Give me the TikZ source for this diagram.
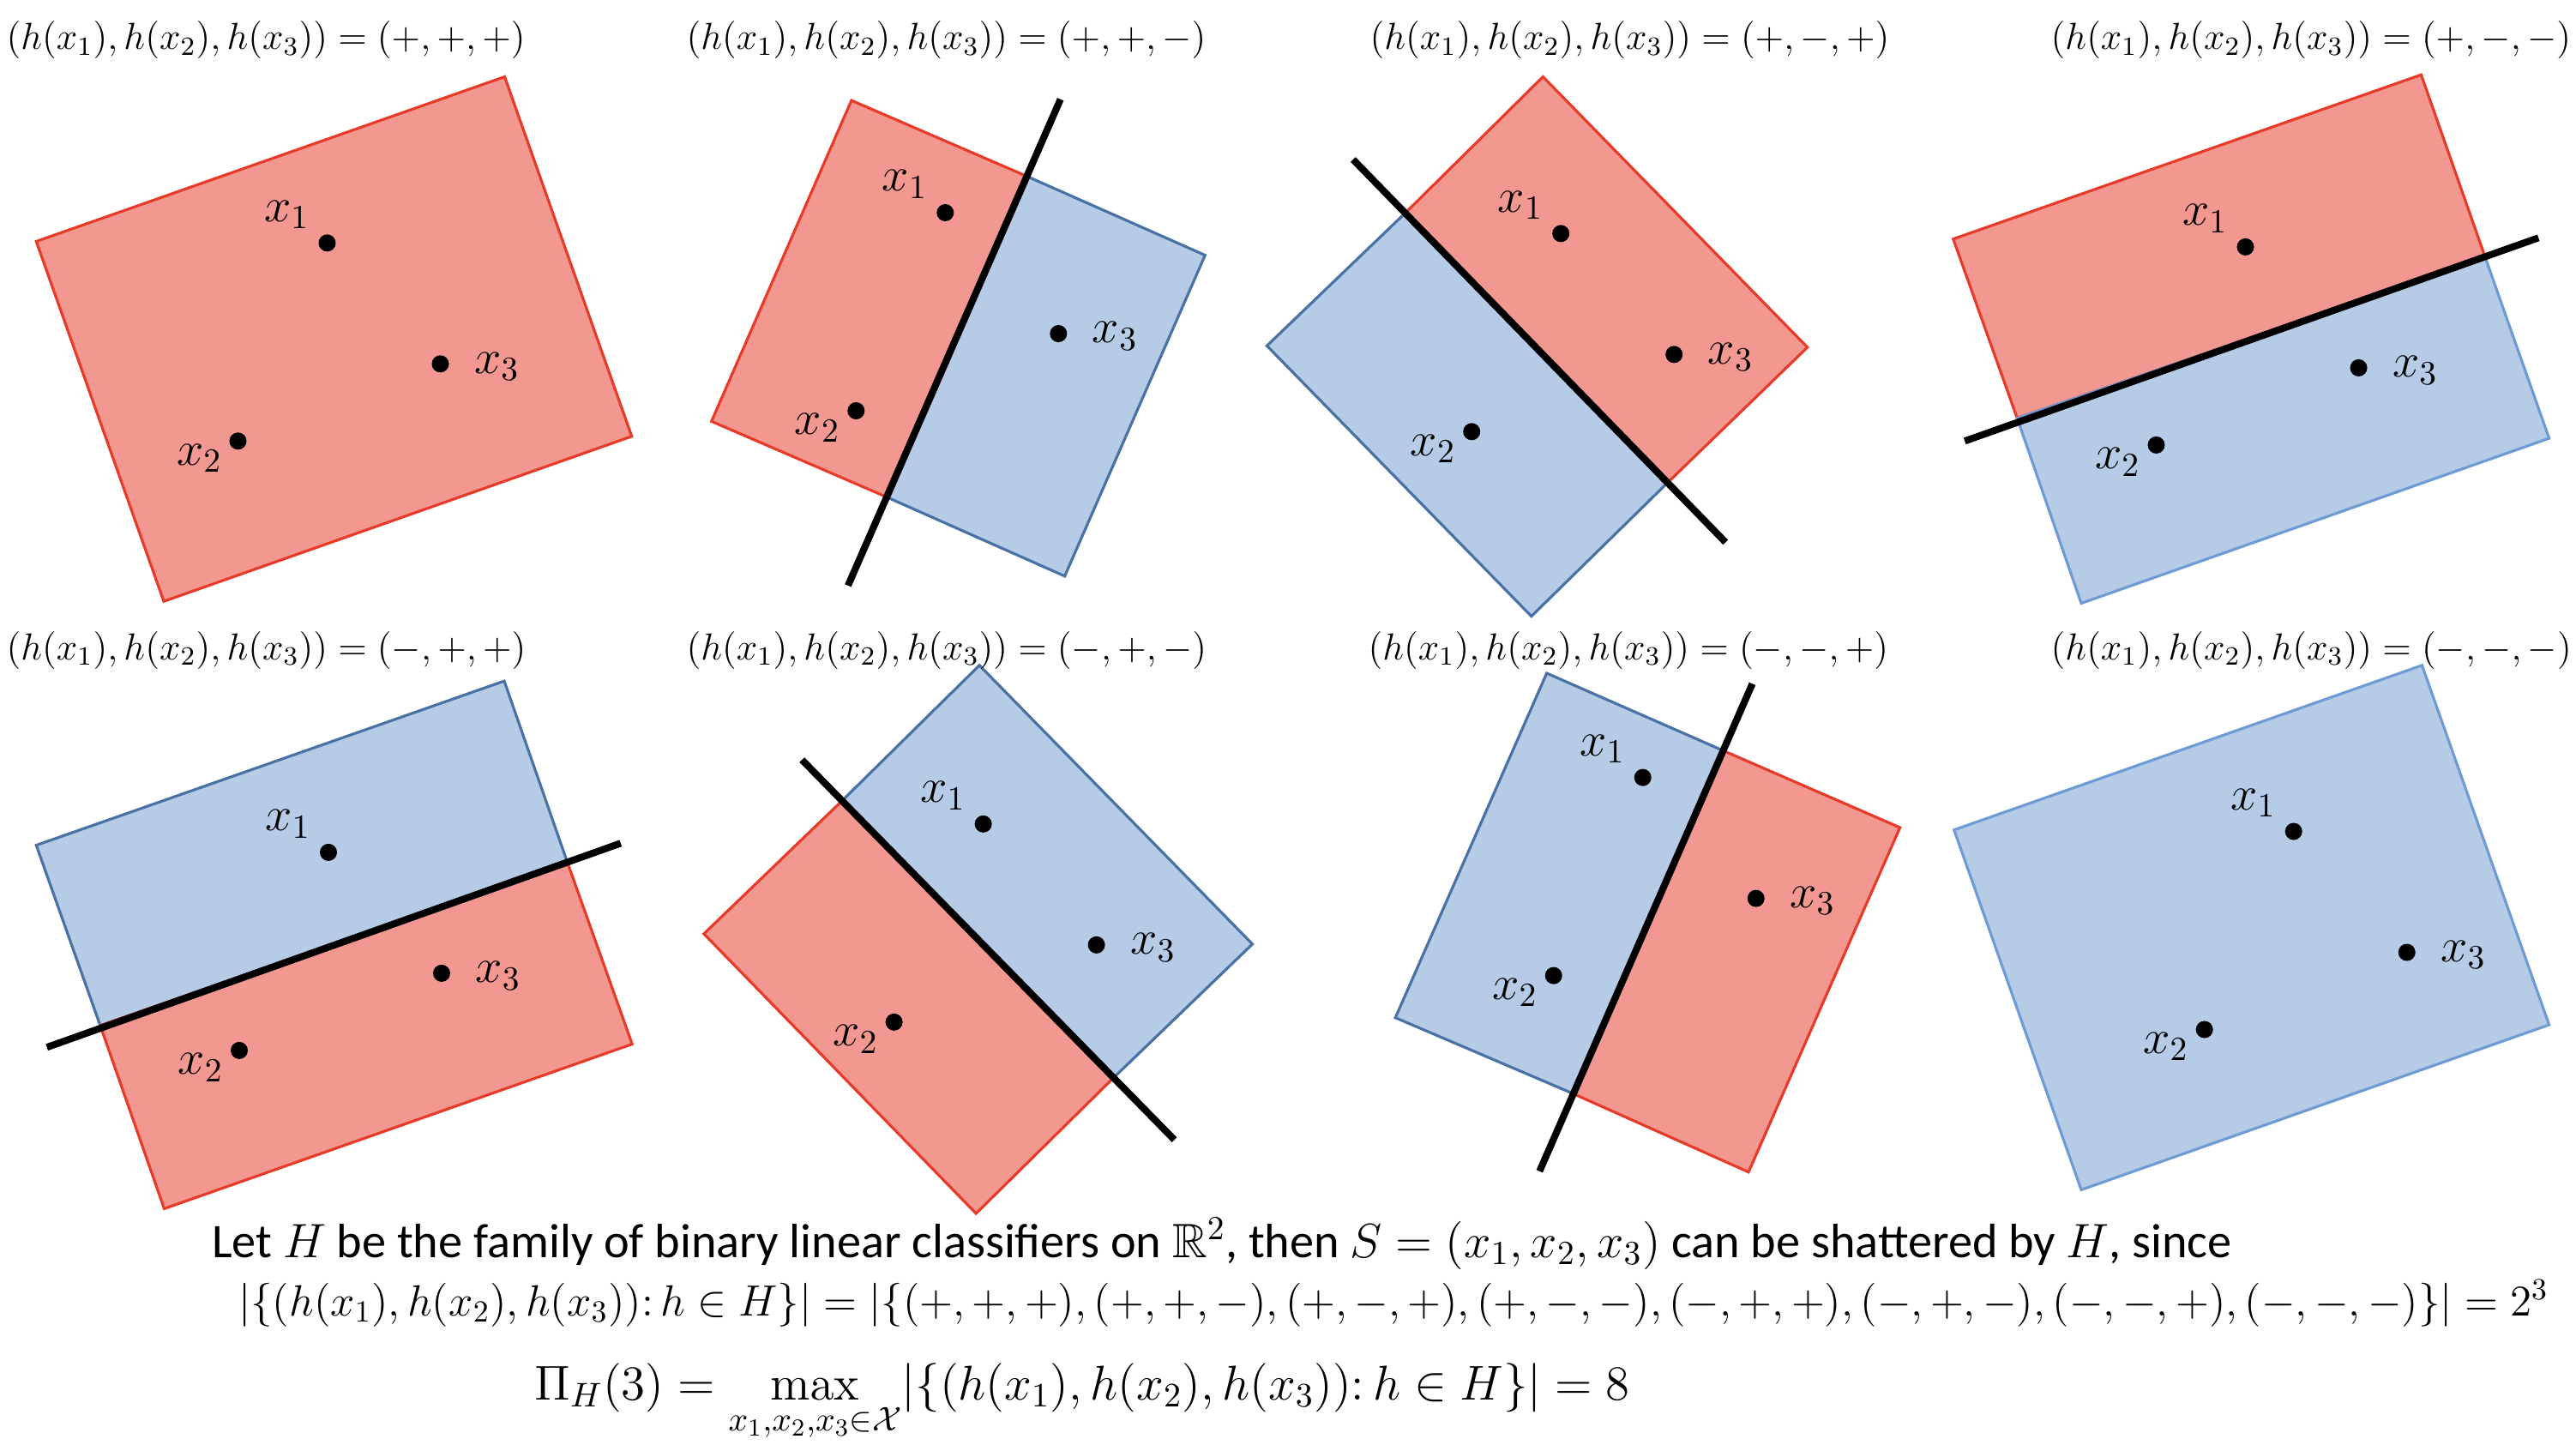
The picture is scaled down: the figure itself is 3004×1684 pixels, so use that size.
\RequirePackage{fix-cm}
\documentclass[tikz,border=0pt]{standalone}
\usepackage{amssymb}
\usepackage[no-math]{fontspec}
\setmainfont{Carlito}
\definecolor{redfill}{RGB}{243,152,145}
\definecolor{rededge}{RGB}{232,58,40}
\definecolor{bluefill}{RGB}{181,203,230}
\definecolor{blueedge}{RGB}{74,113,163}
\definecolor{blueedgeb}{RGB}{110,155,212}
\begin{document}
\begin{tikzpicture}[x=0.01cm,y=-0.01cm,
  posreg/.style={fill=redfill,draw=rededge,line width=0.9pt},
  negreg/.style={fill=bluefill,draw=blueedge,line width=0.9pt},
  sep/.style={line width=2.3pt},
  dot/.style={circle,fill=black,inner sep=0pt,minimum size=0.2cm},
  lbl/.style={font=\fontsize{16}{18}\selectfont},
  head/.style={anchor=west,inner sep=0pt,font=\fontsize{12.5}{15}\selectfont}]
  \useasboundingbox (0,0) rectangle (3004,1684);

  \draw[posreg] (42.3,281.5) -- (588.5,89.5) -- (736.7,508.8) -- (191,701.2) -- cycle;
  \node[head] (t1) at (7,47) {$\bigl(h(x_1),h(x_2),h(x_3)\bigr)=(+,+,+)$};
  \node[dot] (p1a) at (381.5,283.3) {};
  \node[dot] (p1b) at ([shift={(-104,231)}]p1a) {};
  \node[dot] (p1c) at ([shift={(132,141)}]p1a) {};
  \node[lbl] (p1la) at ([shift={(-47,-33)}]p1a) {$x_1$};
  \node[lbl] (p1lb) at ([shift={(-45,20)}]p1b) {$x_2$};
  \node[lbl] (p1lc) at ([shift={(66,3)}]p1c) {$x_3$};

  \draw[posreg] (992.9,117.1) -- (1196.9,205.3) -- (1033.7,579.5) -- (829.7,491.3) -- cycle;
  \draw[negreg] (1196.9,205.3) -- (1405.3,297.6) -- (1241.6,671.8) -- (1033.7,579.5) -- cycle;
  \coordinate (s2a) at (1236.7,115.7);
  \coordinate (s2b) at (988.9,682.8);
  \draw[sep] (s2a) -- (s2b);
  \node[head] (t2) at (800,47) {$\bigl(h(x_1),h(x_2),h(x_3)\bigr)=(+,+,-)$};
  \node[dot] (p2a) at (1102.3,248) {};
  \node[dot] (p2b) at ([shift={(-104,231)}]p2a) {};
  \node[dot] (p2c) at ([shift={(132,141)}]p2a) {};
  \node[lbl] (p2la) at ([shift={(-47,-33)}]p2a) {$x_1$};
  \node[lbl] (p2lb) at ([shift={(-45,20)}]p2b) {$x_2$};
  \node[lbl] (p2lc) at ([shift={(66,3)}]p2c) {$x_3$};

  \draw[posreg] (1639.1,248) -- (1799.3,89.5) -- (2107.7,405) -- (1945,562.5) -- cycle;
  \draw[negreg] (1477.4,403.2) -- (1639.1,248) -- (1945,562.5) -- (1785.8,718.6) -- cycle;
  \coordinate (s3a) at (1577.9,186);
  \coordinate (s3b) at (2012.2,632.3);
  \draw[sep] (s3a) -- (s3b);
  \node[head] (t3) at (1597,47) {$\bigl(h(x_1),h(x_2),h(x_3)\bigr)=(+,-,+)$};
  \node[dot] (p3a) at (1820.2,272.3) {};
  \node[dot] (p3b) at ([shift={(-104,231)}]p3a) {};
  \node[dot] (p3c) at ([shift={(132,141)}]p3a) {};
  \node[lbl] (p3la) at ([shift={(-47,-33)}]p3a) {$x_1$};
  \node[lbl] (p3lb) at ([shift={(-45,20)}]p3b) {$x_2$};
  \node[lbl] (p3lc) at ([shift={(66,3)}]p3c) {$x_3$};

  \draw[posreg] (2277.7,278.7) -- (2823.4,87.2) -- (2898,299.8) -- (2352.3,487.6) -- cycle;
  \draw[negreg,draw=blueedgeb] (2352.3,487.6) -- (2898,299.8) -- (2972.6,511.1) -- (2427,703.5) -- cycle;
  \coordinate (s4a) at (2960.2,277.3);
  \coordinate (s4b) at (2291.2,514.3);
  \draw[sep] (s4a) -- (s4b);
  \node[head] (t4) at (2391,47) {$\bigl(h(x_1),h(x_2),h(x_3)\bigr)=(+,-,-)$};
  \node[dot] (p4a) at (2618.5,287.9) {};
  \node[dot] (p4b) at ([shift={(-104,231)}]p4a) {};
  \node[dot] (p4c) at ([shift={(132,141)}]p4a) {};
  \node[lbl] (p4la) at ([shift={(-47,-33)}]p4a) {$x_1$};
  \node[lbl] (p4lb) at ([shift={(-45,20)}]p4b) {$x_2$};
  \node[lbl] (p4lc) at ([shift={(66,3)}]p4c) {$x_3$};

  \draw[negreg] (42.3,985.6) -- (588,794.1) -- (661.6,1005.4) -- (116.9,1195.9) -- cycle;
  \draw[posreg] (116.9,1195.9) -- (661.6,1005.4) -- (737.2,1217.5) -- (191.5,1409.4) -- cycle;
  \coordinate (s5a) at (723.8,983.3);
  \coordinate (s5b) at (54.7,1221.2);
  \draw[sep] (s5a) -- (s5b);
  \node[head] (t5) at (7,758) {$\bigl(h(x_1),h(x_2),h(x_3)\bigr)=(-,+,+)$};
  \node[dot] (p5a) at (383,993.9) {};
  \node[dot] (p5b) at ([shift={(-104,231)}]p5a) {};
  \node[dot] (p5c) at ([shift={(132,141)}]p5a) {};
  \node[lbl] (p5la) at ([shift={(-47,-33)}]p5a) {$x_1$};
  \node[lbl] (p5lb) at ([shift={(-45,20)}]p5b) {$x_2$};
  \node[lbl] (p5lc) at ([shift={(66,3)}]p5c) {$x_3$};

  \draw[negreg] (981.5,934.2) -- (1142.1,775.8) -- (1460.5,1100.9) -- (1298.8,1256.5) -- cycle;
  \draw[posreg] (820.8,1088.9) -- (981.5,934.2) -- (1298.8,1256.5) -- (1138.2,1415) -- cycle;
  \coordinate (s6a) at (935.2,886);
  \coordinate (s6b) at (1369.5,1329.1);
  \draw[sep] (s6a) -- (s6b);
  \node[head] (t6) at (800,758) {$\bigl(h(x_1),h(x_2),h(x_3)\bigr)=(-,+,-)$};
  \node[dot] (p6a) at (1146.6,960.8) {};
  \node[dot] (p6b) at ([shift={(-104,231)}]p6a) {};
  \node[dot] (p6c) at ([shift={(132,141)}]p6a) {};
  \node[lbl] (p6la) at ([shift={(-47,-33)}]p6a) {$x_1$};
  \node[lbl] (p6lb) at ([shift={(-45,20)}]p6b) {$x_2$};
  \node[lbl] (p6lc) at ([shift={(66,3)}]p6c) {$x_3$};

  \draw[negreg] (1803.7,785) -- (2007.7,874.5) -- (1833.6,1274.9) -- (1627.2,1186.7) -- cycle;
  \draw[posreg] (2007.7,874.5) -- (2215.6,965) -- (2039,1366.7) -- (1833.6,1274.9) -- cycle;
  \coordinate (s7a) at (2043.5,797.3);
  \coordinate (s7b) at (1795.3,1365.8);
  \draw[sep] (s7a) -- (s7b);
  \node[head] (t7) at (1595,758) {$\bigl(h(x_1),h(x_2),h(x_3)\bigr)=(-,-,+)$};
  \node[dot] (p7a) at (1915.7,906.6) {};
  \node[dot] (p7b) at ([shift={(-104,231)}]p7a) {};
  \node[dot] (p7c) at ([shift={(132,141)}]p7a) {};
  \node[lbl] (p7la) at ([shift={(-47,-33)}]p7a) {$x_1$};
  \node[lbl] (p7lb) at ([shift={(-45,20)}]p7b) {$x_2$};
  \node[lbl] (p7lc) at ([shift={(66,3)}]p7c) {$x_3$};

  \draw[negreg,draw=blueedgeb] (2278.7,967.7) -- (2824.4,775.8) -- (2972.6,1195) -- (2427,1387.4) -- cycle;
  \node[head] (t8) at (2391,758) {$\bigl(h(x_1),h(x_2),h(x_3)\bigr)=(-,-,-)$};
  \node[dot] (p8a) at (2674.7,969.5) {};
  \node[dot] (p8b) at ([shift={(-104,231)}]p8a) {};
  \node[dot] (p8c) at ([shift={(132,141)}]p8a) {};
  \node[lbl] (p8la) at ([shift={(-47,-33)}]p8a) {$x_1$};
  \node[lbl] (p8lb) at ([shift={(-45,20)}]p8b) {$x_2$};
  \node[lbl] (p8lc) at ([shift={(66,3)}]p8c) {$x_3$};

  \node[anchor=base,font=\fontsize{16}{18}\selectfont] (txt) at (1425,1466)
    {Let $H$ be the family of binary linear classifiers on $\mathbb{R}^2$, then $S=(x_1,x_2,x_3)$ can be shattered by $H$, since};
  \node[anchor=base,font=\fontsize{14.5}{16}\selectfont] (card) at (1625,1534)
    {$\bigl|\bigl\{\bigl(h(x_1),h(x_2),h(x_3)\bigr)\colon h\in H\bigr\}\bigr|=\bigl|\{(+,+,+),(+,+,-),(+,-,+),(+,-,-),(-,+,+),(-,+,-),(-,-,+),(-,-,-)\}\bigr|=2^3$};
  \node[anchor=base,font=\fontsize{16.2}{18}\selectfont] (growth) at (1262,1632)
    {$\displaystyle\Pi_H(3)=\max_{x_1,x_2,x_3\in\mathcal{X}}\bigl|\bigl\{\bigl(h(x_1),h(x_2),h(x_3)\bigr)\colon h\in H\bigr\}\bigr|=8$};
\end{tikzpicture}
\end{document}
